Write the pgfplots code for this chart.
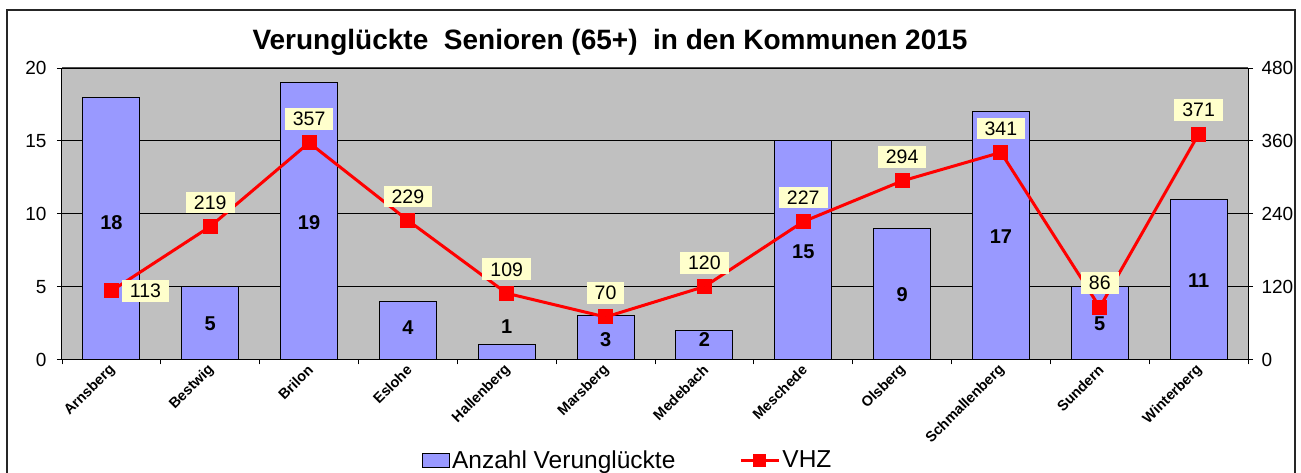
\documentclass[border=0pt]{standalone}
\usepackage{pgfplots}
\pgfplotsset{compat=1.18}
\usepackage{fontspec}
\setmainfont{Liberation Sans}
\definecolor{plotgray}{HTML}{C0C0C0}
\definecolor{barblue}{HTML}{9999FF}
\definecolor{labelyellow}{HTML}{FFFFCC}
\pgfplotsset{
  vhzlegend/.style={legend image code/.code={\draw[mark repeat=2, mark phase=2, mark size=5pt, ##1] plot coordinates {(0pt,0pt)(19pt,0pt)(38pt,0pt)};}},
  barlegend/.style={legend image code/.code={\draw[fill=barblue, draw=black, line width=1pt] (0pt,-7pt) rectangle (27pt,7pt);}},
}
\begin{document}
\begin{tikzpicture}
\useasboundingbox (0,0) rectangle (1301pt,473pt);
\fill[white] (0,0) rectangle (1301pt,473pt);
\draw[line width=1.5pt, black!85] (7pt,-3pt) -- (7pt,463pt) -- (1295pt,463pt) -- (1295pt,-3pt);
\node[font=\fontsize{28}{31}\selectfont\bfseries] at (610pt,431pt) {Verunglückte\ \ Senioren\ (65+)\ \ in\ den\ Kommunen\ 2015};

\begin{axis}[
  at={(62pt,113.5pt)}, anchor=south west,
  scale only axis, width=1186pt, height=291.5pt,
  xmin=-0.5, xmax=11.5, ymin=0, ymax=20,
  axis x line*=bottom, axis y line*=left,
  axis line style={-, line width=1pt, black},
  axis background/.style={fill=plotgray},
  ytick={0,5,10,15,20},
  ymajorgrids, major grid style={black, line width=0.8pt},
  xtick={0,...,11},
  xticklabels={Arnsberg,Bestwig,Brilon,Eslohe,Hallenberg,Marsberg,Medebach,Meschede,Olsberg,Schmallenberg,Sundern,Winterberg},
  minor xtick={-0.5,0.5,...,11.5},
  tick align=outside,
  major tick length=5pt, minor tick length=5pt,
  tick style={black, line width=0.8pt},
  major x tick style={draw=none},
  xticklabel style={rotate=45, anchor=east, font=\fontsize{14.5}{15}\selectfont\bfseries, inner sep=1pt, yshift=-3pt},
  yticklabel style={font=\fontsize{19}{20}\selectfont, xshift=-7pt},
  /pgf/number format/assume math mode=true,
  clip=false,
]
\addplot[ybar, bar width=57pt, fill=barblue, draw=black, line width=1pt] coordinates {
(0,18)(1,5)(2,19)(3,4)(4,1)(5,3)(6,2)(7,15)(8,9)(9,17)(10,5)(11,11)};
\addplot[only marks, mark=square*, mark size=0pt, mark options={draw=none,fill=none},
  nodes near coords, point meta=explicit symbolic,
  nodes near coords style={anchor=center, font=\fontsize{20}{21}\selectfont\bfseries}]
  table[meta=label] {
x y label
0 9.4 18
1 2.47 5
2 9.4 19
3 2.2 4
4 2.27 1
5 1.37 3
6 1.37 2
7 7.4 15
8 4.47 9
9 8.45 17
10 2.47 5
11 5.4 11
};
\draw[gray!60!black, line width=1pt] (rel axis cs:0,1) -- (rel axis cs:1,1);
\end{axis}

\begin{axis}[
  at={(62pt,113.5pt)}, anchor=south west,
  scale only axis, width=1186pt, height=291.5pt,
  xmin=-0.5, xmax=11.5, ymin=0, ymax=480,
  axis y line*=right, axis x line=none,
  axis line style={-, line width=1pt, black},
  ytick={0,120,240,360,480},
  tick align=outside, major tick length=5pt,
  tick style={black, line width=0.8pt},
  yticklabel style={font=\fontsize{19}{20}\selectfont, xshift=5pt},
  /pgf/number format/assume math mode=true,
  legend style={at={(0.477,-0.345)}, anchor=center, draw=none, fill=none,
    font=\fontsize{24.5}{26}\selectfont, legend columns=2,
    /tikz/every even column/.append style={column sep=62pt}},
  legend cell align=left,
  clip=false,
]
\addlegendimage{barlegend}
\addlegendentry{Anzahl Verunglückte}
\addplot[red, line width=3pt, mark=square*, mark size=6pt, mark options={solid, fill=red}, vhzlegend]
  coordinates {(0,113)(1,219)(2,357)(3,229)(4,109)(5,70)(6,120)(7,227)(8,294)(9,341)(10,86)(11,371)};
\addlegendentry{VHZ}
\addplot[forget plot, only marks, mark=square*, mark size=0pt, mark options={draw=none,fill=none},
  nodes near coords, point meta=explicit symbolic,
  nodes near coords style={anchor=center, yshift=24pt, fill=labelyellow, inner xsep=8pt, inner ysep=4pt, font=\fontsize{19.5}{20}\selectfont}]
  table[meta=label] {
x y label
1 219 219
2 357 357
3 229 229
4 109 109
5 70 70
6 120 120
7 227 227
8 294 294
9 341 341
10 86 86
11 371 371
};
\addplot[forget plot, only marks, mark=square*, mark size=0pt, mark options={draw=none,fill=none},
  nodes near coords, point meta=explicit symbolic,
  nodes near coords style={anchor=center, xshift=34pt, fill=labelyellow, inner xsep=8pt, inner ysep=4pt, font=\fontsize{19.5}{20}\selectfont}]
  table[meta=label] {
x y label
0 113 113
};
\end{axis}
\end{tikzpicture}
\end{document}
